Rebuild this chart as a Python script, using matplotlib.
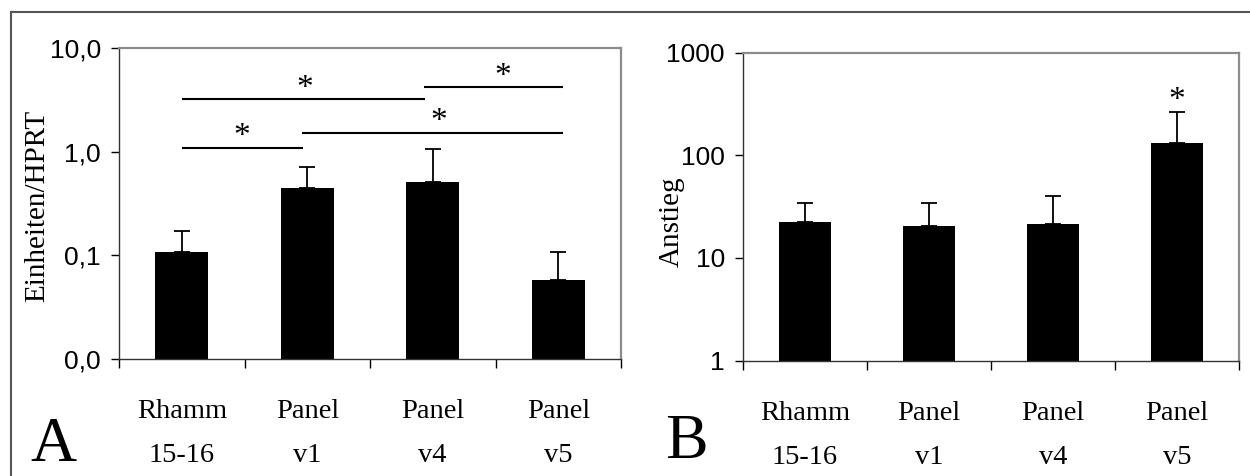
import matplotlib.pyplot as plt
from matplotlib.lines import Line2D

# DATA
# -----------------------------------------------
categories = ["Rhamm\n15-16", "Panel\nv1", "Panel\nv4", "Panel\nv5"]

units_mean = [0.108, 0.446, 0.506, 0.058]
units_err = [0.063, 0.27, 0.56, 0.049]
units_ticks = [0.01, 0.1, 1, 10]
units_ticklabels = ["0,0", "0,1", "1,0", "10,0"]

rise_mean = [22.5, 20.5, 21.6, 130]
rise_err = [12, 14, 18, 135]
rise_ticks = [1, 10, 100, 1000]
rise_ticklabels = ["1", "10", "100", "1000"]

# significance brackets in panel A: (from, to, height, star position)
sig_from = [0.0, 1.93, 0.0, 0.96]
sig_to = [1.94, 3.04, 0.97, 3.04]
sig_height = [3.19, 4.17, 1.08, 1.51]
sig_star = [0.98, 2.56, 0.48, 2.05]

# star above the last bar in panel B
rise_star_idx = 3

SERIF = "Liberation Serif"
SANS = "Liberation Sans"
GRAY = "#8c8c8c"


# PLOTTING
# -----------------------------------------------

def style_axis(ax, ticks, ticklabels, ylim):
    x = range(len(categories))
    ax.set_yscale("log")
    ax.set_ylim(*ylim)
    ax.set_xlim(-0.5, len(categories) - 0.5)
    ax.set_yticks(ticks)
    ax.set_yticklabels(ticklabels, fontfamily=SANS, fontsize=19)
    ax.yaxis.set_minor_locator(plt.NullLocator())
    ax.tick_params(axis="y", length=6, width=1, pad=7, colors="black")

    ax.set_xticks(list(x))
    ax.set_xticklabels(categories, fontfamily=SERIF, fontsize=20.5, linespacing=2.0)
    ax.tick_params(axis="x", which="major", length=0, pad=29)
    ax.set_xticks([i - 0.5 for i in range(len(categories) + 1)], minor=True)
    ax.tick_params(axis="x", which="minor", length=6.5, width=1, direction="out")

    for side in ["left", "bottom"]:
        ax.spines[side].set_color("#333333")
        ax.spines[side].set_linewidth(1.0)
    for side in ["top", "right"]:
        ax.spines[side].set_color(GRAY)
        ax.spines[side].set_linewidth(1.6)


def draw_bars(ax, means, errs, ylim):
    x = list(range(len(means)))
    ax.bar(x, [m - ylim[0] for m in means], bottom=ylim[0], width=0.42,
           color="black", zorder=2)
    ax.errorbar(x, means, yerr=[[0] * len(errs), errs], fmt="none",
                ecolor="black", elinewidth=1.3, capsize=5.5, capthick=1.3, zorder=3)


fig = plt.figure(figsize=(12.5, 4.76), dpi=100)

axA = fig.add_axes([0.0952, 0.2458, 0.4016, 0.6534])
axB = fig.add_axes([0.5944, 0.2426, 0.3968, 0.6471])

ylimA = (0.01, 10)
ylimB = (1, 1000)

draw_bars(axA, units_mean, units_err, ylimA)
style_axis(axA, units_ticks, units_ticklabels, ylimA)

for x0, x1, h, xs in zip(sig_from, sig_to, sig_height, sig_star):
    axA.plot([x0, x1], [h, h], color="black", lw=1.5, solid_capstyle="butt")
    axA.annotate("*", xy=(xs, h), xytext=(0, 2), textcoords="offset points",
                 ha="center", va="baseline", fontfamily=SERIF, fontsize=24)

draw_bars(axB, rise_mean, rise_err, ylimB)
style_axis(axB, rise_ticks, rise_ticklabels, ylimB)
top = rise_mean[rise_star_idx] + rise_err[rise_star_idx]
axB.annotate("*", xy=(rise_star_idx, top), xytext=(0, 2), textcoords="offset points",
             ha="center", va="baseline", fontfamily=SERIF, fontsize=24)

# y labels
fig.text(0.0296, 0.567, "Einheiten/HPRT", rotation=90, ha="center", va="center",
         fontfamily=SERIF, fontsize=21)
fig.text(0.537, 0.534, "Anstieg", rotation=90, ha="center", va="center",
         fontfamily=SERIF, fontsize=21)

# panel letters
fig.text(0.0425, 0.003, "A", ha="center", va="bottom", fontfamily=SERIF, fontsize=46)
fig.text(0.549, 0.009, "B", ha="center", va="bottom", fontfamily=SERIF, fontsize=46)

# outer frame (top and left edges)
fig.add_artist(Line2D([10.5 / 1250, 1.0], [1 - 12 / 476, 1 - 12 / 476],
                      transform=fig.transFigure, color="#555555", lw=1.5))
fig.add_artist(Line2D([10.5 / 1250, 10.5 / 1250], [0.0, 1 - 12 / 476],
                      transform=fig.transFigure, color="#555555", lw=1.5))

fig.savefig("out.png", dpi=100)
